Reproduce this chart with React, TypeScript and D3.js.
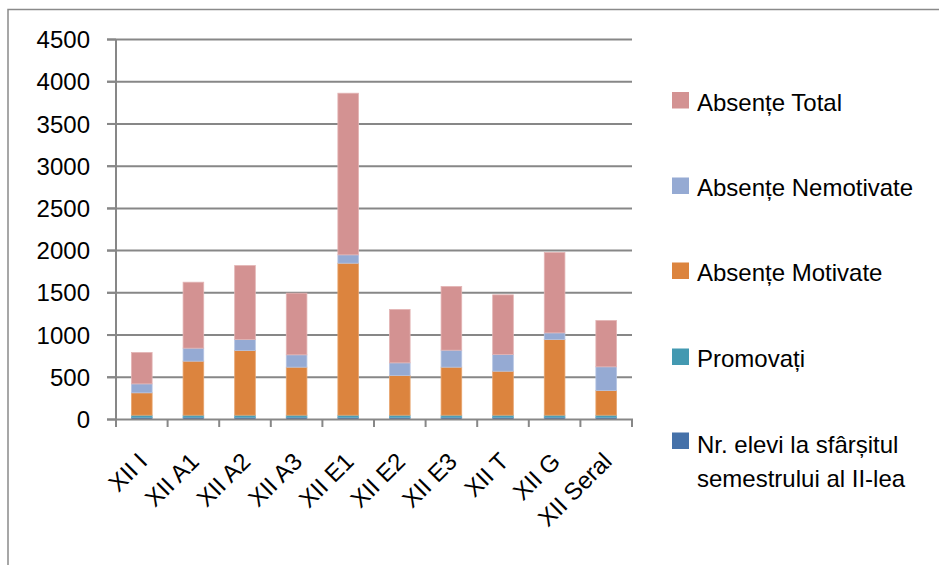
import React from "react";
import * as d3 from "d3";

const categories = ["XII I", "XII A1", "XII A2", "XII A3", "XII E1", "XII E2", "XII E3", "XII T", "XII G", "XII Seral"];
const nrElevi = [27, 28, 27, 28, 27, 27, 28, 27, 28, 27];
const promovati = [24, 23, 24, 23, 24, 24, 23, 24, 23, 24];
const absMotivate = [265, 640, 766, 569, 1800, 470, 569, 521, 896, 292];
const absNemotivate = [106, 154, 130, 146, 99, 150, 201, 198, 79, 281];
const absTotal = [371, 781, 876, 730, 1914, 632, 754, 706, 952, 548];
const yTicks = [0, 500, 1000, 1500, 2000, 2500, 3000, 3500, 4000, 4500];

const seriesNames = ["Nr. elevi la sfârșitul semestrului al II-lea", "Promovați", "Absențe Motivate", "Absențe Nemotivate", "Absențe Total"];
const seriesColors = ["#4571A9", "#4399B1", "#DC843E", "#95AAD3", "#D39292"];
const seriesStroke = ["#6C8FC0", "#6DB3C6", "#E8A56F", "#B5C4E2", "#E3B4B4"];

const W = 939;
const H = 565;
const FONT = "'Liberation Sans', Arial, sans-serif";

export default function App() {
  const rows = categories.map((c, i) => ({
    cat: c,
    s0: nrElevi[i],
    s1: promovati[i],
    s2: absMotivate[i],
    s3: absNemotivate[i],
    s4: absTotal[i],
  }));
  const keys = ["s0", "s1", "s2", "s3", "s4"];
  const stacked = d3.stack<any>().keys(keys)(rows);

  const x = d3.scaleBand<string>().domain(categories).range([116, 632]).paddingInner(0.6).paddingOuter(0.3);
  const y = d3.scaleLinear().domain([0, 4500]).range([419.5, 39.5]);
  const step = x.step();
  const bw = x.bandwidth();
  const boundaries = categories.map((c) => (x(c) as number) - (step - bw) / 2).concat([632]);

  const legendItems = [4, 3, 2, 1, 0];
  const legendY = [100.5, 186, 271, 357, 441];

  return (
    <svg width={W} height={H} style={{ position: "absolute", left: 0, top: 0, background: "#fff" }} fontFamily={FONT}>
      <rect x={8} y={9.5} width={W + 20} height={H + 20} fill="#fff" stroke="#8a8a8a" strokeWidth={1.5} />
      {/* gridlines */}
      {yTicks.map((t) => (
        <g key={t}>
          {t > 0 && <line x1={107} x2={632} y1={y(t)} y2={y(t)} stroke="#878787" strokeWidth={2} />}
          <line x1={107} x2={116} y1={y(t)} y2={y(t)} stroke="#878787" strokeWidth={2} />
          <text x={90} y={y(t)} dy="0.36em" textAnchor="end" fontSize={24} fill="#000">
            {t}
          </text>
        </g>
      ))}
      {/* bars */}
      {stacked.map((s, si) => (
        <g key={si}>
          {s.map((d, i) => (
            <rect
              key={i}
              x={x(categories[i]) as number}
              y={y(d[1])}
              width={bw}
              height={Math.max(0, y(d[0]) - y(d[1]))}
              fill={seriesColors[si]}
              stroke={seriesStroke[si]}
              strokeWidth={0.8}
            />
          ))}
        </g>
      ))}
      {/* axes */}
      <line x1={116} x2={116} y1={39.5} y2={427} stroke="#878787" strokeWidth={2} />
      <line x1={107} x2={633} y1={419.5} y2={419.5} stroke="#878787" strokeWidth={2} />
      {boundaries.map((b, i) => (
        <line key={i} x1={b} x2={b} y1={419.5} y2={427} stroke="#878787" strokeWidth={2} />
      ))}
      {/* x labels */}
      {categories.map((c) => {
        const cx = (x(c) as number) + bw / 2 + 7;
        const cy = 463;
        return (
          <text key={c} transform={`translate(${cx},${cy}) rotate(-45)`} textAnchor="end" fontSize={24} fill="#000">
            {c}
          </text>
        );
      })}
      {/* legend */}
      {legendItems.map((si, k) => (
        <g key={si}>
          <rect x={672} y={legendY[k] - 8.5} width={17} height={16.5} fill={seriesColors[si]} />
          {si === 0 ? (
            <text x={697} y={legendY[k] + 11.5} fontSize={24} fill="#000">
              <tspan x={697}>Nr. elevi la sfârșitul</tspan>
              <tspan x={697} dy={34}>semestrului al II-lea</tspan>
            </text>
          ) : (
            <text x={697} y={legendY[k] + 10} fontSize={24} fill="#000">
              {seriesNames[si]}
            </text>
          )}
        </g>
      ))}
    </svg>
  );
}
